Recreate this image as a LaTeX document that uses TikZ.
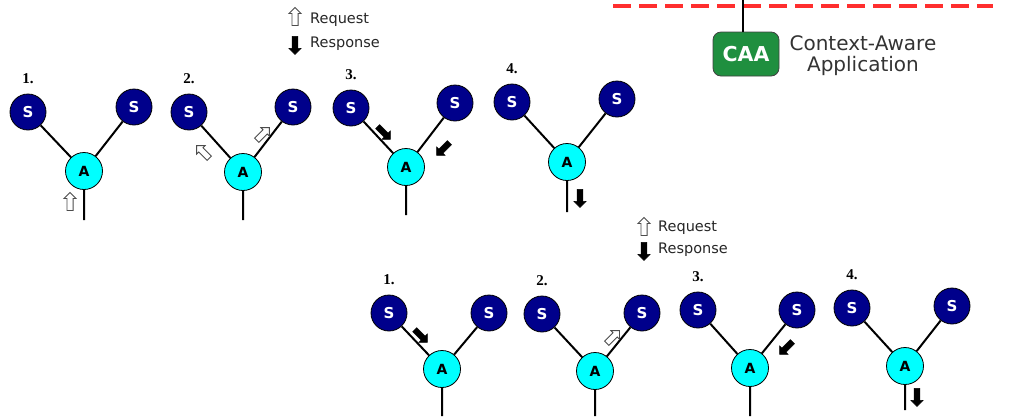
\documentclass[tikz,border=0pt]{standalone}
\usepackage{fontspec}
\setmainfont{DejaVu Sans}
\newfontfamily\numfont{Liberation Serif}
\usetikzlibrary{positioning,shapes.arrows}

\definecolor{sensorblue}{HTML}{00008B}
\definecolor{agentcyan}{HTML}{00FFFF}
\definecolor{caagreen}{HTML}{1F8F3F}
\definecolor{busred}{HTML}{FF2E2E}

\tikzset{
sensor/.style={circle,draw=black,line width=0.8pt,fill=sensorblue,minimum size=36pt,inner sep=0pt,
  text=white,font=\fontsize{15}{15}\selectfont\bfseries},
agent/.style={circle,draw=black,line width=0.8pt,fill=agentcyan,minimum size=37pt,inner sep=0pt,
  font=\fontsize{14}{14}\selectfont\bfseries},
link/.style={line width=2pt},
stepnum/.style={font=\numfont\fontsize{15}{15}\selectfont\bfseries,inner sep=1pt},
flow/.style={single arrow,minimum height=18pt,minimum width=12pt,inner sep=2.6pt,
  single arrow head extend=3pt,single arrow head indent=0pt},
request/.style={flow,draw=black!70,fill=white,line width=0.9pt},
response/.style={flow,draw=black,fill=black,line width=0.5pt},
legend/.style={font=\fontsize{14.5}{14.5}\selectfont,inner sep=0pt,text=black!85}
}

\begin{document}
\begin{tikzpicture}[x=1pt,y=-1pt]
\useasboundingbox (0,0) rectangle (1024,416);

% bus and the application on top of it
\draw[busred,line width=3.5pt,dash pattern=on 18pt off 8pt] (613,6) -- (993,6);
\node[rounded corners=8pt,draw=black!75,line width=0.8pt,fill=caagreen,minimum width=66pt,
  minimum height=44pt,text=white,font=\fontsize{20.5}{20.5}\selectfont\bfseries] (caa) at (746,54) {CAA};
\coordinate (bus) at (743,0);
\draw[line width=2pt] (bus) -- (bus |- caa.north);
\node[align=center,right=10pt of caa,yshift=-2pt,inner sep=0pt,text=black!80,
  font=\fontsize{20}{21}\selectfont] (caa-text) {Context-Aware\\Application};

% legends
\node[request,rotate=90] (leg1-q) at (295,18) {};
\node[legend,anchor=west] (leg1-qt) at (310,20) {Request};
\node[response,rotate=-90] (leg1-p) at (295,44) {};
\node[legend,anchor=west] (leg1-pt) at (310,44) {Response};
\node[request,rotate=90] (leg2-q) at (644,228) {};
\node[legend,anchor=west] (leg2-qt) at (658,228) {Request};
\node[response,rotate=-90] (leg2-p) at (644,250) {};
\node[legend,anchor=west] (leg2-pt) at (658,250) {Response};

% the eight S-S-A trees
\foreach \g/\num/\ax/\ay/\lx/\ly/\rx/\ry/\ty in {
  t1/1/84/171/28/112/134/107/220,
  t2/2/243/172/189/112/293/107/220,
  t3/3/406/167/351/108/455/103/215,
  t4/4/567/162/512/102/617/99/212,
  b1/1/442/369/389/313/489/313/416,
  b2/2/595/371/542/314/642/313/416,
  b3/3/750/368/698/310/797/310/416,
  b4/4/905/366/852/308/952/306/410}
{
  \node[agent] (\g-a) at (\ax,\ay) {A};
  \node[sensor] (\g-l) at (\lx,\ly) {S};
  \node[sensor] (\g-r) at (\rx,\ry) {S};
  \coordinate (\g-t) at (\ax,\ty);
  \node[stepnum,above=9pt of \g-l] (\g-n) {\num.};
  \draw[link] (\g-l) -- (\g-a) -- (\g-t);
  \draw[link] (\g-r) -- (\g-a);
}

% message arrows
\node[request,rotate=90] (t1-q) at (70,203) {};
\node[request,rotate=135] (t2-ql) at (204,153) {};
\node[request,rotate=45] (t2-qr) at (262,135) {};
\node[response,rotate=-45] (t3-pl) at (383,132) {};
\node[response,rotate=-135] (t3-pr) at (444,148) {};
\node[response,rotate=-90] (t4-p) at (580,197) {};
\node[response,rotate=-45] (b1-p) at (420,335) {};
\node[request,rotate=45] (b2-q) at (612,338) {};
\node[response,rotate=-135] (b3-p) at (787,347) {};
\node[response,rotate=-90] (b4-p) at (917,396) {};
\end{tikzpicture}
\end{document}
